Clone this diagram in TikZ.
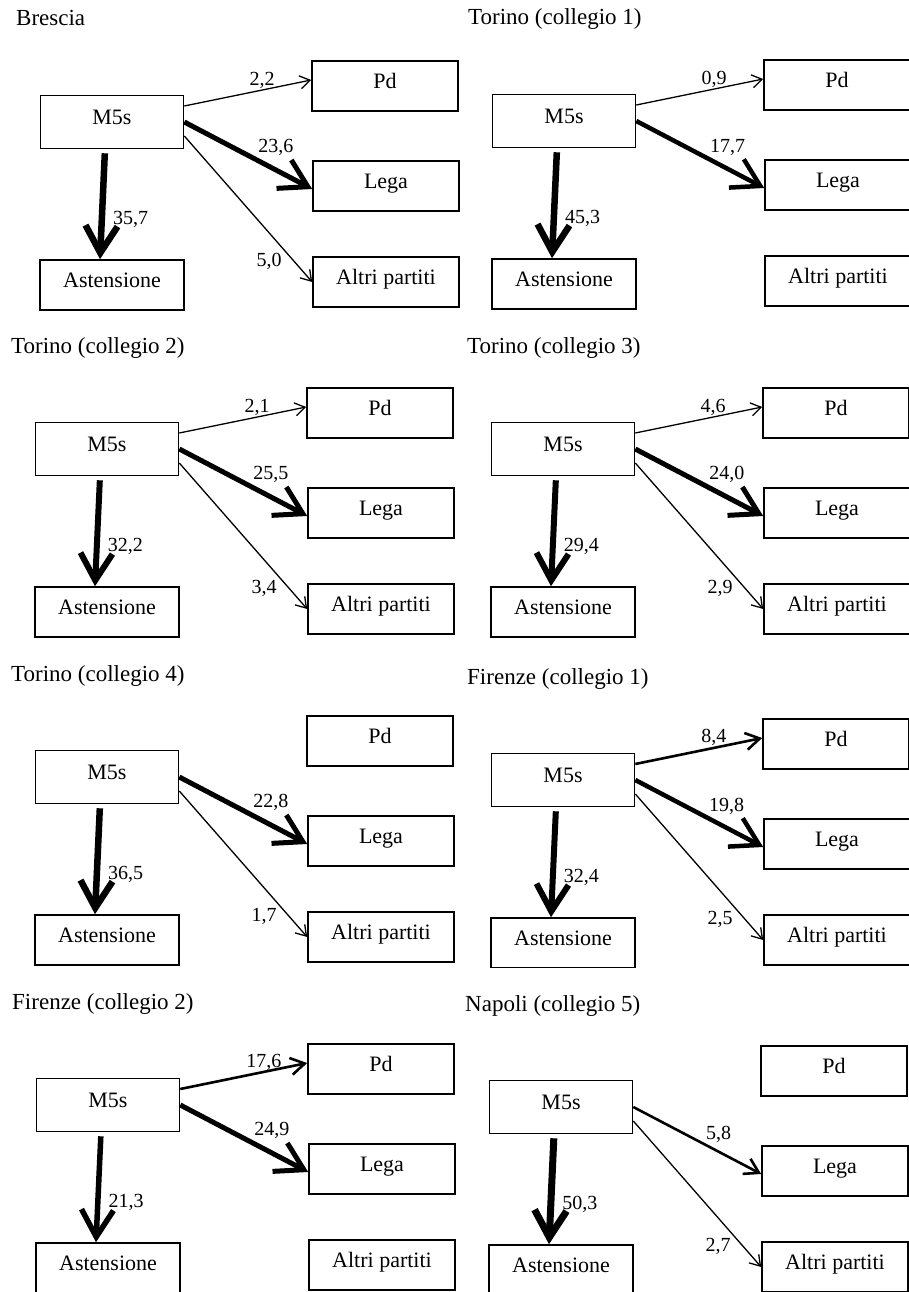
\documentclass[tikz,border=0pt]{standalone}
\usepackage{fontspec}
\setmainfont{Liberation Serif}
\usepackage{tikz}
\usetikzlibrary{arrows.meta, positioning}
\tikzset{
    partito/.style={rectangle, draw, line width=1.6pt, minimum width=146pt, minimum height=50pt, inner sep=0pt, text height=15pt, text depth=10pt, font=\fontsize{22}{26}\selectfont},
    m5sbox/.style={partito, minimum width=143pt, minimum height=53pt},
    astbox/.style={partito, minimum width=144pt},
    titolo/.style={anchor=base west, inner sep=0pt, font=\fontsize{23}{27}\selectfont},
    valore/.style={inner sep=0pt, font=\fontsize{20}{24}\selectfont},
    lpd/.style={valore, pos=0.51, anchor=south west, yshift=4pt},
    llega/.style={valore, pos=0.56, anchor=south west, yshift=1pt},
    laltri/.style={valore, pos=0.86, anchor=east, xshift=-12pt},
    last/.style={valore, pos=0.64, anchor=west, xshift=8pt},
    thinflow/.style={line width=1.3pt, -{Straight Barb[length=10pt,width=13pt]}},
    midflow/.style={line width=2.6pt, -{Straight Barb[length=14pt,width=17pt]}},
    thickflow/.style={line width=#1, -{Straight Barb[length=27pt,width=32pt]}},
    thickflow/.default=5pt
}
% one panel: prefix, corner of the M5s box, title
\newcommand{\pannello}[4]{%
    \node[titolo] (#1-tit) at (#2-24,#3-69) {#4};
    \node[m5sbox] (#1-m5s) at (#2+72,#3+27) {M5s};
    \node[partito] (#1-pd) at (#2+345,#3-9) {Pd};
    \node[partito] (#1-lega) at (#2+346,#3+91) {Lega};
    \node[partito] (#1-altri) at (#2+346,#3+187) {Altri partiti};
    \node[astbox] (#1-ast) at (#2+72,#3+190) {Astensione};
}

\begin{document}
\begin{tikzpicture}[x=1pt, y=-1pt]

\clip (0,0) rectangle (909,1292);

\pannello{br}{40}{95}{Brescia}
\pannello{ta}{492}{94}{Torino (collegio 1)}
\pannello{tb}{35}{422}{Torino (collegio 2)}
\pannello{tc}{491}{422}{Torino (collegio 3)}
\pannello{td}{35}{750}{Torino (collegio 4)}
\pannello{fa}{491}{753}{Firenze (collegio 1)}
\pannello{fb}{36}{1078}{Firenze (collegio 2)}
\pannello{na}{489}{1080}{Napoli (collegio 5)}

% Brescia
\draw[thinflow] ([yshift=16pt]br-m5s.east) -- node[lpd] {2,2} ([yshift=6pt]br-pd.west);
\draw[thickflow] (br-m5s.east) -- node[llega] {23,6} ([yshift=-3pt]br-lega.west);
\draw[thinflow] ([yshift=-14pt]br-m5s.east) -- node[laltri] {5,0} (br-altri.west);
\draw[thickflow=6.5pt, shorten <=4pt] ([xshift=-7pt]br-m5s.south) -- node[last] {35,7} ([xshift=-12pt]br-ast.north);

% Torino 1
\draw[thinflow] ([yshift=16pt]ta-m5s.east) -- node[lpd] {0,9} ([yshift=6pt]ta-pd.west);
\draw[thickflow=4.5pt] (ta-m5s.east) -- node[llega] {17,7} ([yshift=-3pt]ta-lega.west);
\draw[thickflow=6.5pt, shorten <=4pt] ([xshift=-7pt]ta-m5s.south) -- node[last] {45,3} ([xshift=-12pt]ta-ast.north);

% Torino 2
\draw[thinflow] ([yshift=16pt]tb-m5s.east) -- node[lpd] {2,1} ([yshift=6pt]tb-pd.west);
\draw[thickflow] (tb-m5s.east) -- node[llega] {25,5} ([yshift=-3pt]tb-lega.west);
\draw[thinflow] ([yshift=-14pt]tb-m5s.east) -- node[laltri] {3,4} (tb-altri.west);
\draw[thickflow=6pt, shorten <=4pt] ([xshift=-7pt]tb-m5s.south) -- node[last] {32,2} ([xshift=-12pt]tb-ast.north);

% Torino 3
\draw[thinflow] ([yshift=16pt]tc-m5s.east) -- node[lpd] {4,6} ([yshift=6pt]tc-pd.west);
\draw[thickflow] (tc-m5s.east) -- node[llega] {24,0} ([yshift=-3pt]tc-lega.west);
\draw[thinflow] ([yshift=-14pt]tc-m5s.east) -- node[laltri] {2,9} (tc-altri.west);
\draw[thickflow=6pt, shorten <=4pt] ([xshift=-7pt]tc-m5s.south) -- node[last] {29,4} ([xshift=-12pt]tc-ast.north);

% Torino 4
\draw[thickflow] (td-m5s.east) -- node[llega] {22,8} ([yshift=-3pt]td-lega.west);
\draw[thinflow] ([yshift=-14pt]td-m5s.east) -- node[laltri] {1,7} (td-altri.west);
\draw[thickflow=6.5pt, shorten <=4pt] ([xshift=-7pt]td-m5s.south) -- node[last] {36,5} ([xshift=-12pt]td-ast.north);

% Firenze 1
\draw[midflow] ([yshift=16pt]fa-m5s.east) -- node[lpd] {8,4} ([yshift=6pt]fa-pd.west);
\draw[thickflow=4.5pt] (fa-m5s.east) -- node[llega] {19,8} ([yshift=-3pt]fa-lega.west);
\draw[thinflow] ([yshift=-14pt]fa-m5s.east) -- node[laltri] {2,5} (fa-altri.west);
\draw[thickflow=6pt, shorten <=4pt] ([xshift=-7pt]fa-m5s.south) -- node[last] {32,4} ([xshift=-12pt]fa-ast.north);
\fill[white] (485,968) rectangle (650,982);

% Firenze 2
\draw[midflow] ([yshift=16pt]fb-m5s.east) -- node[lpd] {17,6} ([yshift=6pt]fb-pd.west);
\draw[thickflow] (fb-m5s.east) -- node[llega] {24,9} ([yshift=-3pt]fb-lega.west);
\draw[thickflow=5.5pt, shorten <=4pt] ([xshift=-7pt]fb-m5s.south) -- node[last] {21,3} ([xshift=-12pt]fb-ast.north);

% Napoli 5
\draw[midflow] (na-m5s.east) -- node[llega] {5,8} ([yshift=-3pt]na-lega.west);
\draw[thinflow] ([yshift=-14pt]na-m5s.east) -- node[laltri] {2,7} (na-altri.west);
\draw[thickflow=7pt, shorten <=4pt] ([xshift=-7pt]na-m5s.south) -- node[last] {50,3} ([xshift=-12pt]na-ast.north);

\end{tikzpicture}
\end{document}
